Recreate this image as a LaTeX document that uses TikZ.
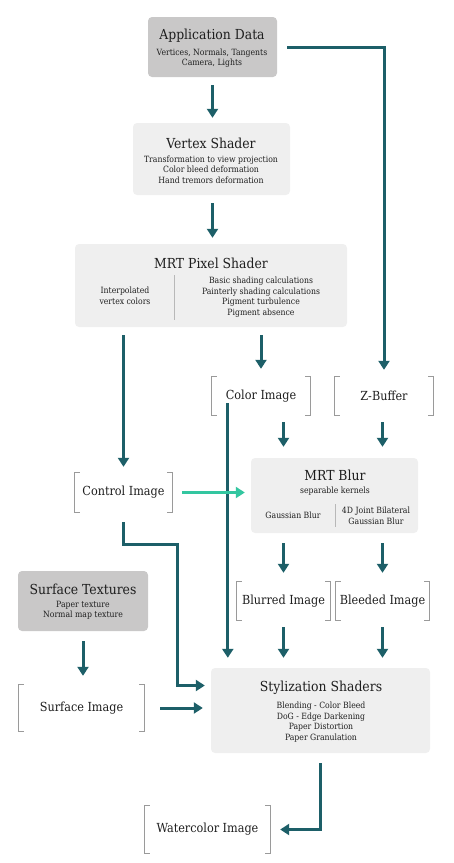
\documentclass[tikz,border=0pt]{standalone}
\usepackage{fontspec}
\IfFontExistsTF{DejaVu Serif Condensed}
  {\setmainfont{DejaVu Serif Condensed}}
  {\setmainfont[Scale=0.9]{DejaVu Serif}}
\usetikzlibrary{arrows.meta}
\definecolor{teal1}{HTML}{1D5F68}
\definecolor{green1}{HTML}{33C6A0}
\definecolor{dgray}{HTML}{C9C8C8}
\definecolor{lgray}{HTML}{EFEFEF}
\definecolor{bgray}{HTML}{9A9A9A}
\definecolor{txt}{HTML}{1E1E1E}
\newcommand\ttlf{\fontsize{13.8}{15}\selectfont}
\newcommand\subf{\fontsize{8.6}{10.5}\selectfont}
\newcommand\brkf{\fontsize{12.5}{14}\selectfont}
\tikzset{
  boxd/.style={draw=none, fill=dgray, rounded corners=4pt, inner sep=0pt},
  boxl/.style={draw=none, fill=lgray, rounded corners=4pt, inner sep=0pt},
  ttl/.style={font=\ttlf, text=txt, inner sep=0pt},
  sub/.style={font=\subf, text=txt, align=center, inner sep=0pt},
  brknode/.style={font=\brkf, text=txt, inner sep=0pt},
  brk/.style={draw=bgray, line width=1.2pt},
  arr/.style={draw=teal1, line width=3pt, -{Triangle[length=9pt,width=11pt]}},
  garr/.style={draw=green1, line width=3pt, -{Triangle[length=9pt,width=11pt]}},
  divider/.style={draw=bgray!70, line width=1pt},
}
\begin{document}
\begin{tikzpicture}[x=1pt,y=-1pt]
\useasboundingbox (0,0) rectangle (453,863);
% boxes
\node[boxd, minimum width=129pt, minimum height=60pt] (app) at (212.5,47) {};
\node[ttl] (appt) at (212,36) {Application Data};
\node[sub] (apps) at (212,58) {Vertices, Normals, Tangents\\Camera, Lights};

\node[boxl, minimum width=157pt, minimum height=72pt] (vs) at (211.5,159) {};
\node[ttl] (vst) at (211,143) {Vertex Shader};
\node[sub] (vss) at (211,169.5) {Transformation to view projection\\Color bleed deformation\\Hand tremors deformation};

\node[boxl, minimum width=272pt, minimum height=83pt] (mrt) at (211,285.5) {};
\node[ttl] (mrtt) at (211,263) {MRT Pixel Shader};
\node[sub] (mrtl) at (125,296) {Interpolated\\vertex colors};
\node[sub] (mrtr) at (261,297) {Basic shading calculations\\Painterly shading calculations\\Pigment turbulence\\Pigment absence};
\draw[divider] (174,275) -- (174,320);

\node[boxl, minimum width=167pt, minimum height=75pt] (blur) at (334.5,495.5) {};
\node[ttl] (blurt) at (335,475) {MRT Blur};
\node[sub] (blurs) at (335,491.5) {separable kernels};
\node[sub] (blurl) at (293,515.5) {Gaussian Blur};
\node[sub] (blurr) at (376,516) {4D Joint Bilateral\\Gaussian Blur};
\draw[divider] (335,504) -- (335,527);

\node[boxd, minimum width=130pt, minimum height=60pt] (surf) at (83,601) {};
\node[ttl] (surft) at (83,589) {Surface Textures};
\node[sub] (surfs) at (83,610.5) {Paper texture\\Normal map texture};

\node[boxl, minimum width=219pt, minimum height=85pt] (styl) at (320.5,710.5) {};
\node[ttl] (stylt) at (321,688) {Stylization Shaders};
\node[sub] (styls) at (321,722) {Blending - Color Bleed\\DoG - Edge Darkening\\Paper Distortion\\Paper Granulation};

% bracketed images
\node[brknode, minimum width=98pt, minimum height=38pt] (color) at (261,396) {Color Image};
\node[brknode, minimum width=98pt, minimum height=38pt] (zbuf) at (384,396) {Z-Buffer};
\node[brknode, minimum width=97pt, minimum height=39pt] (control) at (123.5,492.5) {Control Image};
\node[brknode, minimum width=93pt, minimum height=38pt] (blurred) at (283.5,601) {Blurred Image};
\node[brknode, minimum width=93pt, minimum height=38pt] (bleeded) at (382.5,601) {Bleeded Image};
\node[brknode, minimum width=125pt, minimum height=46pt] (surfimg) at (81.5,708) {Surface Image};
\node[brknode, minimum width=125pt, minimum height=47pt] (water) at (207.5,829.5) {Watercolor Image};
\foreach \n in {color,zbuf,control,blurred,bleeded,surfimg,water}{
  \draw[brk] ([xshift=5pt]\n.north west) -- (\n.north west) -- (\n.south west) -- ([xshift=5pt]\n.south west);
  \draw[brk] ([xshift=-5pt]\n.north east) -- (\n.north east) -- (\n.south east) -- ([xshift=-5pt]\n.south east);
}

% connectors
\draw[arr] ([yshift=-8pt]app.south) -- ([yshift=5pt]vs.north -| app.south);
\draw[arr] ([xshift=10pt]app.east) -| ([yshift=7pt]zbuf.north);
\draw[arr] ([yshift=-8pt]vs.south -| app.south) -- ([yshift=6pt]mrt.north -| app.south);
\draw[arr] ([yshift=-8pt]mrt.south -| control.north) -- ([yshift=6pt]control.north);
\draw[arr] ([yshift=-8pt]mrt.south -| color.north) -- ([yshift=8pt]color.north);
\path ([xshift=16pt,yshift=-7pt]color.west) coordinate (cstart);
\draw[arr] (cstart) -- ([yshift=10pt]cstart |- styl.north);
\draw[arr] ([yshift=-7pt]color.south -| blurred.north) -- ([yshift=11pt]blur.north -| blurred.north);
\draw[arr] ([yshift=-7pt]zbuf.south -| bleeded.north) -- ([yshift=11pt]blur.north -| bleeded.north);
\draw[garr] ([xshift=10pt]control.east) -- ([xshift=-6pt]blur.west |- control.east);
\draw[arr] ([yshift=-10pt]control.south) -- ++(0,22) -- ++(54,0) |- ([xshift=-6pt,yshift=25pt]styl.west);
\draw[arr] ([yshift=-10pt]blur.south -| blurred.north) -- ([yshift=9pt]blurred.north);
\draw[arr] ([yshift=-10pt]blur.south -| bleeded.north) -- ([yshift=9pt]bleeded.north);
\draw[arr] ([yshift=-7pt]blurred.south) -- ([yshift=10pt]styl.north -| blurred.south);
\draw[arr] ([yshift=-7pt]bleeded.south) -- ([yshift=10pt]styl.north -| bleeded.south);
\draw[arr] ([yshift=-10pt]surf.south) -- ([yshift=9pt]surfimg.north -| surf.south);
\draw[arr] ([xshift=16pt]surfimg.east) -- ([xshift=-8pt]styl.west |- surfimg.east);
\draw[arr] ([yshift=-10pt]styl.south) |- ([xshift=10pt]water.east);
\end{tikzpicture}
\end{document}
